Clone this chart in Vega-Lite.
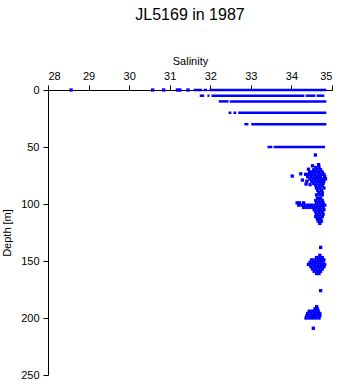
{
  "$schema": "https://vega.github.io/schema/vega-lite/v6.json",
  "width": 284,
  "height": 285,
  "autosize": {"type": "none"},
  "padding": {"left": 48, "top": 90, "right": 9, "bottom": 9},
  "background": "white",
  "title": {"text": "JL5169 in 1987", "anchor": "middle", "fontSize": 16, "fontWeight": "normal", "font": "Liberation Sans", "color": "black", "offset": 32},
  "config": {
    "view": {"stroke": null},
    "axis": {"labelFont": "Liberation Sans", "titleFont": "Liberation Sans", "labelFontSize": 11, "titleFontSize": 11, "titleFontWeight": "normal", "labelColor": "black", "titleColor": "black", "domainColor": "black", "tickColor": "black", "tickSize": 5, "grid": false, "labelPadding": 4}
  },
  "datasets": {
    "segs": [
      {"depth": 0, "s1": 31.59, "s2": 31.80},
      {"depth": 0, "s1": 31.84, "s2": 31.92},
      {"depth": 0, "s1": 31.98, "s2": 34.86},
      {"depth": 5, "s1": 31.74, "s2": 31.85},
      {"depth": 5, "s1": 31.93, "s2": 31.98},
      {"depth": 5, "s1": 32.03, "s2": 34.32},
      {"depth": 5, "s1": 34.35, "s2": 34.59},
      {"depth": 5, "s1": 34.62, "s2": 34.81},
      {"depth": 10, "s1": 32.21, "s2": 32.45},
      {"depth": 10, "s1": 32.48, "s2": 34.86},
      {"depth": 20, "s1": 32.45, "s2": 32.52},
      {"depth": 20, "s1": 32.57, "s2": 32.64},
      {"depth": 20, "s1": 32.69, "s2": 34.86},
      {"depth": 30, "s1": 32.84, "s2": 32.94},
      {"depth": 30, "s1": 33.01, "s2": 34.86},
      {"depth": 50, "s1": 33.41, "s2": 33.53},
      {"depth": 50, "s1": 33.56, "s2": 34.83}
    ],
    "pts": [
      {"depth": 0, "sal": 28.57}, {"depth": 0, "sal": 30.58}, {"depth": 0, "sal": 30.85}, {"depth": 0, "sal": 31.19}, {"depth": 0, "sal": 31.25}, {"depth": 0, "sal": 31.45},
      {"depth": 57, "sal": 34.59},
      {"depth": 66.5, "sal": 34.52}, {"depth": 65.5, "sal": 34.67}, {"depth": 69.5, "sal": 34.42}, {"depth": 73.5, "sal": 34.23}, {"depth": 75.5, "sal": 34.02}, {"depth": 82.5, "sal": 34.36}, {"depth": 83, "sal": 34.46}, {"depth": 79, "sal": 34.27},
      {"depth": 68, "sal": 34.60}, {"depth": 68, "sal": 34.68},
      {"depth": 70, "sal": 34.55}, {"depth": 70, "sal": 34.63}, {"depth": 70, "sal": 34.72},
      {"depth": 72, "sal": 34.45}, {"depth": 72, "sal": 34.52}, {"depth": 72, "sal": 34.60}, {"depth": 72, "sal": 34.68}, {"depth": 72, "sal": 34.76},
      {"depth": 74, "sal": 34.35}, {"depth": 74, "sal": 34.42}, {"depth": 74, "sal": 34.50}, {"depth": 74, "sal": 34.58}, {"depth": 74, "sal": 34.66}, {"depth": 74, "sal": 34.74}, {"depth": 74, "sal": 34.80},
      {"depth": 76, "sal": 34.40}, {"depth": 76, "sal": 34.48}, {"depth": 76, "sal": 34.56}, {"depth": 76, "sal": 34.64}, {"depth": 76, "sal": 34.72}, {"depth": 76, "sal": 34.82},
      {"depth": 78, "sal": 34.45}, {"depth": 78, "sal": 34.53}, {"depth": 78, "sal": 34.61}, {"depth": 78, "sal": 34.69}, {"depth": 78, "sal": 34.77}, {"depth": 78, "sal": 34.84},
      {"depth": 80, "sal": 34.38}, {"depth": 80, "sal": 34.50}, {"depth": 80, "sal": 34.58}, {"depth": 80, "sal": 34.66}, {"depth": 80, "sal": 34.74}, {"depth": 80, "sal": 34.80},
      {"depth": 82, "sal": 34.55}, {"depth": 82, "sal": 34.63}, {"depth": 82, "sal": 34.71}, {"depth": 82, "sal": 34.78},
      {"depth": 84, "sal": 34.60}, {"depth": 84, "sal": 34.68}, {"depth": 84, "sal": 34.76},
      {"depth": 86, "sal": 34.62}, {"depth": 86, "sal": 34.70}, {"depth": 86, "sal": 34.80},
      {"depth": 88, "sal": 34.65}, {"depth": 88, "sal": 34.74},
      {"depth": 90, "sal": 34.68}, {"depth": 90, "sal": 34.76},
      {"depth": 92, "sal": 34.62}, {"depth": 92, "sal": 34.70}, {"depth": 92, "sal": 34.76},
      {"depth": 95, "sal": 34.64}, {"depth": 95, "sal": 34.72},
      {"depth": 97, "sal": 34.60}, {"depth": 97, "sal": 34.68}, {"depth": 97, "sal": 34.76},
      {"depth": 99, "sal": 34.14}, {"depth": 99, "sal": 34.20}, {"depth": 99, "sal": 34.30}, {"depth": 99, "sal": 34.62}, {"depth": 99, "sal": 34.70}, {"depth": 99, "sal": 34.78},
      {"depth": 101, "sal": 34.18}, {"depth": 101, "sal": 34.26}, {"depth": 101, "sal": 34.34}, {"depth": 101, "sal": 34.42}, {"depth": 101, "sal": 34.50}, {"depth": 101, "sal": 34.58}, {"depth": 101, "sal": 34.66}, {"depth": 101, "sal": 34.74}, {"depth": 101, "sal": 34.82},
      {"depth": 103, "sal": 34.30}, {"depth": 103, "sal": 34.38}, {"depth": 103, "sal": 34.46}, {"depth": 103, "sal": 34.54}, {"depth": 103, "sal": 34.62}, {"depth": 103, "sal": 34.70}, {"depth": 103, "sal": 34.78},
      {"depth": 105, "sal": 34.56}, {"depth": 105, "sal": 34.64}, {"depth": 105, "sal": 34.72}, {"depth": 105, "sal": 34.80},
      {"depth": 107, "sal": 34.60}, {"depth": 107, "sal": 34.68}, {"depth": 107, "sal": 34.76},
      {"depth": 109, "sal": 34.62}, {"depth": 109, "sal": 34.70}, {"depth": 109, "sal": 34.78},
      {"depth": 111, "sal": 34.60}, {"depth": 111, "sal": 34.68}, {"depth": 111, "sal": 34.76},
      {"depth": 113, "sal": 34.64}, {"depth": 113, "sal": 34.72},
      {"depth": 115, "sal": 34.66}, {"depth": 115, "sal": 34.74},
      {"depth": 117, "sal": 34.70},
      {"depth": 138, "sal": 34.72},
      {"depth": 145, "sal": 34.70},
      {"depth": 147, "sal": 34.62}, {"depth": 147, "sal": 34.70}, {"depth": 147, "sal": 34.76},
      {"depth": 149, "sal": 34.50}, {"depth": 149, "sal": 34.58}, {"depth": 149, "sal": 34.66}, {"depth": 149, "sal": 34.74}, {"depth": 149, "sal": 34.80},
      {"depth": 151, "sal": 34.46}, {"depth": 151, "sal": 34.54}, {"depth": 151, "sal": 34.62}, {"depth": 151, "sal": 34.70}, {"depth": 151, "sal": 34.78},
      {"depth": 153, "sal": 34.42}, {"depth": 153, "sal": 34.50}, {"depth": 153, "sal": 34.58}, {"depth": 153, "sal": 34.66}, {"depth": 153, "sal": 34.74}, {"depth": 153, "sal": 34.82},
      {"depth": 155, "sal": 34.48}, {"depth": 155, "sal": 34.56}, {"depth": 155, "sal": 34.64}, {"depth": 155, "sal": 34.72}, {"depth": 155, "sal": 34.80},
      {"depth": 157, "sal": 34.52}, {"depth": 157, "sal": 34.60}, {"depth": 157, "sal": 34.68}, {"depth": 157, "sal": 34.76},
      {"depth": 159, "sal": 34.56}, {"depth": 159, "sal": 34.64}, {"depth": 159, "sal": 34.72},
      {"depth": 161, "sal": 34.62}, {"depth": 161, "sal": 34.68},
      {"depth": 176, "sal": 34.72},
      {"depth": 190, "sal": 34.62},
      {"depth": 192, "sal": 34.58}, {"depth": 192, "sal": 34.64},
      {"depth": 194, "sal": 34.44}, {"depth": 194, "sal": 34.52}, {"depth": 194, "sal": 34.60}, {"depth": 194, "sal": 34.66},
      {"depth": 196, "sal": 34.40}, {"depth": 196, "sal": 34.48}, {"depth": 196, "sal": 34.56}, {"depth": 196, "sal": 34.64}, {"depth": 196, "sal": 34.70},
      {"depth": 198, "sal": 34.38}, {"depth": 198, "sal": 34.46}, {"depth": 198, "sal": 34.54}, {"depth": 198, "sal": 34.62}, {"depth": 198, "sal": 34.70},
      {"depth": 200, "sal": 34.36}, {"depth": 200, "sal": 34.44}, {"depth": 200, "sal": 34.52}, {"depth": 200, "sal": 34.60}, {"depth": 200, "sal": 34.68},
      {"depth": 209, "sal": 34.54}
    ]
  },
  "layer": [
    {
      "data": {"name": "segs"},
      "mark": {"type": "rule", "color": "#0000ff", "strokeWidth": 2.5},
      "encoding": {
        "x": {"field": "s1", "type": "quantitative", "scale": {"domain": [28, 35], "nice": false, "zero": false}, "axis": {"orient": "top", "title": "Salinity", "values": [28, 29, 30, 31, 32, 33, 34, 35], "titlePadding": 4}},
        "x2": {"field": "s2"},
        "y": {"field": "depth", "type": "quantitative", "scale": {"domain": [0, 250], "reverse": true, "nice": false}, "axis": {"title": "Depth [m]", "values": [0, 50, 100, 150, 200, 250], "titlePadding": 8}}
      }
    },
    {
      "data": {"name": "pts"},
      "mark": {"type": "point", "shape": "square", "filled": true, "color": "#0000ff", "size": 11, "opacity": 1},
      "encoding": {
        "x": {"field": "sal", "type": "quantitative"},
        "y": {"field": "depth", "type": "quantitative"}
      }
    }
  ]
}
